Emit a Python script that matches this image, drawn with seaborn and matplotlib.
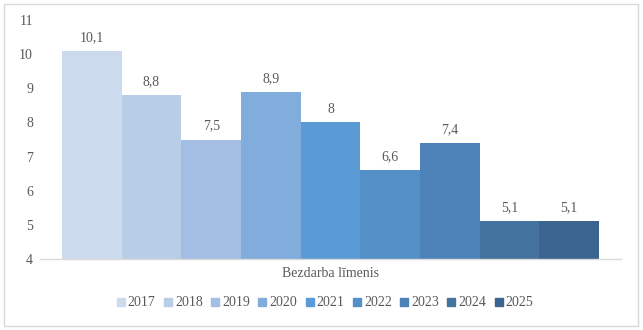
import matplotlib
matplotlib.use("Agg")
import matplotlib.pyplot as plt
import seaborn as sns
import pandas as pd
from matplotlib.patches import Rectangle
from matplotlib.lines import Line2D

years = ["2017", "2018", "2019", "2020", "2021", "2022", "2023", "2024", "2025"]
values = [10.1, 8.8, 7.5, 8.9, 8.0, 6.6, 7.4, 5.1, 5.1]
labels = ["10,1", "8,8", "7,5", "8,9", "8", "6,6", "7,4", "5,1", "5,1"]
category = "Bezdarba līmenis"
colors = ["#CCDAEE", "#B8CDE8", "#A3BEE2", "#80ADDB", "#5A9AD5", "#5490C8",
          "#4C82B8", "#44739F", "#3B658E"]

df = pd.DataFrame({"cat": [category] * len(years), "year": years, "val": values})

sns.set_style("white")
plt.rcParams["font.family"] = ["Liberation Serif", "DejaVu Serif"]
text_color = "#595959"

fig = plt.figure(figsize=(6.43, 3.30), dpi=100)
ax = fig.add_axes([40 / 643, 1 - 259 / 330, 581 / 643, 239 / 330])

sns.barplot(data=df, x="cat", y="val", hue="year", palette=colors, width=0.924,
            gap=0, ax=ax, legend=False, saturation=1, edgecolor="none")

for p, lab in zip(ax.patches, labels):
    h = p.get_height()
    ax.text(p.get_x() + p.get_width() / 2, h + 0.2, lab, ha="center", va="bottom",
            fontsize=10, color=text_color)

ax.set_ylim(4, 11)
ax.set_xlim(-0.5, 0.5)
ax.set_yticks(range(4, 12))
ax.tick_params(axis="y", length=0, labelsize=10, labelcolor=text_color, pad=5)
ax.tick_params(axis="x", length=0, labelsize=10, labelcolor=text_color, pad=6)
ax.set_xlabel("")
ax.set_ylabel("")
for s in ["top", "right", "left"]:
    ax.spines[s].set_visible(False)
ax.spines["bottom"].set_color("#D9D9D9")
ax.spines["bottom"].set_linewidth(1)

handles = [Line2D([], [], marker="s", linestyle="none", markersize=6,
                  markerfacecolor=c, markeredgecolor=c) for c in colors]
fig.legend(handles, years, loc="center", bbox_to_anchor=(324 / 643, 1 - 303 / 330),
           ncol=9, frameon=False, fontsize=10, handletextpad=0.05, columnspacing=0.45,
           handlelength=0.9, labelcolor=text_color)

fig.patches.append(Rectangle((4 / 643, 4 / 330), 634 / 643, 322 / 330, transform=fig.transFigure,
                             fill=False, edgecolor="#D9D9D9", linewidth=1))

fig.savefig("out.png", dpi=100)
